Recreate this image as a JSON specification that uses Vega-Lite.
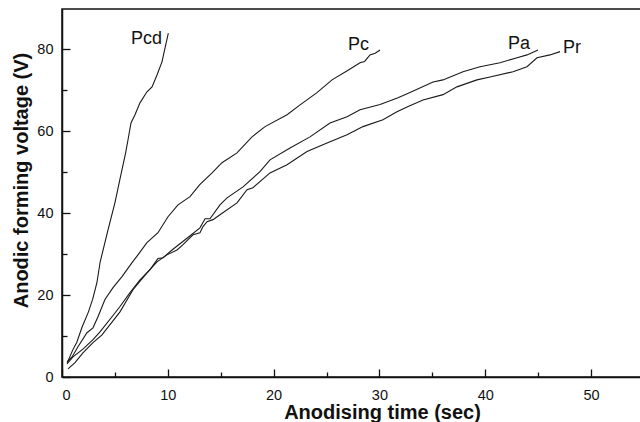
{
  "$schema": "https://vega.github.io/schema/vega-lite/v6.json",
  "autosize": "none",
  "padding": {"left": 62, "top": 9, "right": 0, "bottom": 45},
  "width": 580,
  "height": 368,
  "background": "white",
  "config": {
    "view": {"stroke": "#111111", "strokeWidth": 1.5},
    "font": "Liberation Sans",
    "axis": {
      "grid": false,
      "domainColor": "#111111",
      "domainWidth": 1.5,
      "tickColor": "#111111",
      "tickWidth": 1.3,
      "labelFont": "Liberation Sans",
      "labelFontSize": 14.5,
      "labelColor": "#111111",
      "titleFont": "Liberation Sans",
      "titleFontSize": 20,
      "titleFontWeight": "bold",
      "titleColor": "#111111"
    }
  },
  "datasets": {
    "curves": [
      {"s": "Pcd", "t": 0.5, "v": 3.5}, {"s": "Pcd", "t": 1.0, "v": 6.5}, {"s": "Pcd", "t": 1.4, "v": 8.5}, {"s": "Pcd", "t": 1.9, "v": 12.2}, {"s": "Pcd", "t": 2.5, "v": 15.9}, {"s": "Pcd", "t": 2.9, "v": 19.0}, {"s": "Pcd", "t": 3.3, "v": 23.0}, {"s": "Pcd", "t": 3.6, "v": 28.0}, {"s": "Pcd", "t": 4.35, "v": 35.9}, {"s": "Pcd", "t": 5.0, "v": 42.5}, {"s": "Pcd", "t": 5.67, "v": 50.6}, {"s": "Pcd", "t": 6.0, "v": 54.5}, {"s": "Pcd", "t": 6.24, "v": 57.9}, {"s": "Pcd", "t": 6.52, "v": 62.0}, {"s": "Pcd", "t": 6.9, "v": 64.0}, {"s": "Pcd", "t": 7.37, "v": 66.9}, {"s": "Pcd", "t": 8.03, "v": 69.6}, {"s": "Pcd", "t": 8.51, "v": 70.8}, {"s": "Pcd", "t": 8.98, "v": 73.7}, {"s": "Pcd", "t": 9.45, "v": 76.9}, {"s": "Pcd", "t": 9.74, "v": 80.3}, {"s": "Pcd", "t": 10.05, "v": 83.9},
      {"s": "Pc", "t": 0.47, "v": 3.7}, {"s": "Pc", "t": 0.95, "v": 4.9}, {"s": "Pc", "t": 1.51, "v": 7.4}, {"s": "Pc", "t": 2.36, "v": 10.8}, {"s": "Pc", "t": 2.93, "v": 12.0}, {"s": "Pc", "t": 3.4, "v": 14.7}, {"s": "Pc", "t": 4.06, "v": 18.9}, {"s": "Pc", "t": 4.82, "v": 21.8}, {"s": "Pc", "t": 5.67, "v": 24.5}, {"s": "Pc", "t": 6.62, "v": 27.9}, {"s": "Pc", "t": 7.18, "v": 29.8}, {"s": "Pc", "t": 8.03, "v": 32.8}, {"s": "Pc", "t": 9.07, "v": 35.2}, {"s": "Pc", "t": 10.02, "v": 39.1}, {"s": "Pc", "t": 10.96, "v": 42.0}, {"s": "Pc", "t": 12.1, "v": 44.0}, {"s": "Pc", "t": 13.0, "v": 46.9}, {"s": "Pc", "t": 14.18, "v": 49.8}, {"s": "Pc", "t": 15.12, "v": 52.3}, {"s": "Pc", "t": 16.54, "v": 54.7}, {"s": "Pc", "t": 17.96, "v": 58.6}, {"s": "Pc", "t": 19.19, "v": 61.1}, {"s": "Pc", "t": 21.27, "v": 64.0}, {"s": "Pc", "t": 22.5, "v": 66.4}, {"s": "Pc", "t": 24.1, "v": 69.4}, {"s": "Pc", "t": 25.52, "v": 72.5}, {"s": "Pc", "t": 27.0, "v": 74.8}, {"s": "Pc", "t": 28.17, "v": 76.7}, {"s": "Pc", "t": 28.6, "v": 77.0}, {"s": "Pc", "t": 29.11, "v": 78.6}, {"s": "Pc", "t": 29.6, "v": 79.0}, {"s": "Pc", "t": 30.06, "v": 79.8},
      {"s": "Pa", "t": 0.47, "v": 3.2}, {"s": "Pa", "t": 1.04, "v": 4.9}, {"s": "Pa", "t": 1.98, "v": 6.8}, {"s": "Pa", "t": 2.93, "v": 9.1}, {"s": "Pa", "t": 3.59, "v": 11.0}, {"s": "Pa", "t": 4.82, "v": 15.0}, {"s": "Pa", "t": 5.48, "v": 17.2}, {"s": "Pa", "t": 6.43, "v": 20.6}, {"s": "Pa", "t": 7.37, "v": 23.7}, {"s": "Pa", "t": 8.32, "v": 26.2}, {"s": "Pa", "t": 9.07, "v": 28.9}, {"s": "Pa", "t": 9.55, "v": 29.1}, {"s": "Pa", "t": 10.4, "v": 31.0}, {"s": "Pa", "t": 11.63, "v": 33.5}, {"s": "Pa", "t": 13.04, "v": 36.4}, {"s": "Pa", "t": 13.52, "v": 38.6}, {"s": "Pa", "t": 13.99, "v": 38.6}, {"s": "Pa", "t": 14.93, "v": 42.0}, {"s": "Pa", "t": 15.6, "v": 43.7}, {"s": "Pa", "t": 17.11, "v": 46.4}, {"s": "Pa", "t": 18.71, "v": 50.1}, {"s": "Pa", "t": 19.66, "v": 53.0}, {"s": "Pa", "t": 21.55, "v": 55.9}, {"s": "Pa", "t": 23.44, "v": 58.6}, {"s": "Pa", "t": 25.33, "v": 62.0}, {"s": "Pa", "t": 26.94, "v": 63.5}, {"s": "Pa", "t": 28.17, "v": 65.2}, {"s": "Pa", "t": 30.06, "v": 66.5}, {"s": "Pa", "t": 31.7, "v": 68.1}, {"s": "Pa", "t": 32.89, "v": 69.4}, {"s": "Pa", "t": 35.07, "v": 72.0}, {"s": "Pa", "t": 36.01, "v": 72.5}, {"s": "Pa", "t": 37.9, "v": 74.5}, {"s": "Pa", "t": 39.51, "v": 75.7}, {"s": "Pa", "t": 41.4, "v": 76.7}, {"s": "Pa", "t": 43.01, "v": 77.9}, {"s": "Pa", "t": 43.95, "v": 78.6}, {"s": "Pa", "t": 44.99, "v": 79.8},
      {"s": "Pr", "t": 0.57, "v": 2.0}, {"s": "Pr", "t": 1.23, "v": 3.5}, {"s": "Pr", "t": 1.98, "v": 5.9}, {"s": "Pr", "t": 2.93, "v": 8.4}, {"s": "Pr", "t": 3.78, "v": 10.3}, {"s": "Pr", "t": 4.54, "v": 12.8}, {"s": "Pr", "t": 5.48, "v": 15.9}, {"s": "Pr", "t": 6.71, "v": 21.3}, {"s": "Pr", "t": 8.03, "v": 25.4}, {"s": "Pr", "t": 8.98, "v": 28.1}, {"s": "Pr", "t": 9.92, "v": 29.8}, {"s": "Pr", "t": 10.87, "v": 31.0}, {"s": "Pr", "t": 11.44, "v": 32.3}, {"s": "Pr", "t": 12.38, "v": 34.7}, {"s": "Pr", "t": 13.04, "v": 35.2}, {"s": "Pr", "t": 13.33, "v": 36.7}, {"s": "Pr", "t": 13.71, "v": 37.9}, {"s": "Pr", "t": 14.27, "v": 38.4}, {"s": "Pr", "t": 14.93, "v": 39.6}, {"s": "Pr", "t": 16.54, "v": 42.5}, {"s": "Pr", "t": 17.49, "v": 45.7}, {"s": "Pr", "t": 18.05, "v": 46.2}, {"s": "Pr", "t": 19.66, "v": 49.8}, {"s": "Pr", "t": 21.27, "v": 51.8}, {"s": "Pr", "t": 23.16, "v": 55.0}, {"s": "Pr", "t": 25.05, "v": 57.1}, {"s": "Pr", "t": 26.94, "v": 59.1}, {"s": "Pr", "t": 28.45, "v": 61.1}, {"s": "Pr", "t": 30.34, "v": 62.8}, {"s": "Pr", "t": 31.66, "v": 64.7}, {"s": "Pr", "t": 32.61, "v": 65.9}, {"s": "Pr", "t": 34.12, "v": 67.6}, {"s": "Pr", "t": 36.01, "v": 68.9}, {"s": "Pr", "t": 37.33, "v": 70.8}, {"s": "Pr", "t": 39.22, "v": 72.5}, {"s": "Pr", "t": 40.45, "v": 73.2}, {"s": "Pr", "t": 42.63, "v": 74.5}, {"s": "Pr", "t": 43.95, "v": 75.7}, {"s": "Pr", "t": 44.9, "v": 77.9}, {"s": "Pr", "t": 46.12, "v": 78.6}, {"s": "Pr", "t": 47.07, "v": 79.4}
    ],
    "labels": [
      {"s": "Pcd", "t": 6.52, "v": 81.3},
      {"s": "Pc", "t": 27.03, "v": 79.8},
      {"s": "Pa", "t": 42.16, "v": 80.1},
      {"s": "Pr", "t": 47.35, "v": 79.1}
    ]
  },
  "encoding": {
    "x": {
      "field": "t",
      "type": "quantitative",
      "title": "Anodising time (sec)",
      "scale": {"domain": [0, 54.82], "nice": false, "zero": false},
      "axis": {
        "values": [0, 5, 10, 15, 20, 25, 30, 35, 40, 45, 50],
        "labelExpr": "datum.value % 10 === 0 ? datum.label : ''",
        "tickSize": {"condition": {"test": "datum.value % 10 === 0", "value": -8}, "value": -5},
        "labelPadding": 19,
        "titleX": 320,
        "titleY": 41,
        "titleAlign": "center",
        "titleBaseline": "alphabetic"
      }
    },
    "y": {
      "field": "v",
      "type": "quantitative",
      "title": "Anodic forming voltage (V)",
      "scale": {"domain": [0, 89.8], "nice": false, "zero": false},
      "axis": {
        "values": [0, 10, 20, 30, 40, 50, 60, 70, 80],
        "labelExpr": "datum.value % 20 === 0 ? datum.label : ''",
        "tickSize": {"condition": {"test": "datum.value % 20 === 0", "value": -8}, "value": -5},
        "labelPadding": 17,
        "titleX": -35,
        "titleY": 171,
        "titleAngle": 270,
        "titleAlign": "center",
        "titleBaseline": "alphabetic"
      }
    }
  },
  "layer": [
    {
      "data": {"name": "curves"},
      "mark": {"type": "line", "color": "#1a1a1a", "strokeWidth": 1.1},
      "encoding": {"detail": {"field": "s"}}
    },
    {
      "data": {"name": "labels"},
      "mark": {"type": "text", "align": "left", "baseline": "alphabetic", "fontSize": 18, "font": "Liberation Sans", "color": "#111111"},
      "encoding": {"text": {"field": "s"}}
    }
  ]
}
